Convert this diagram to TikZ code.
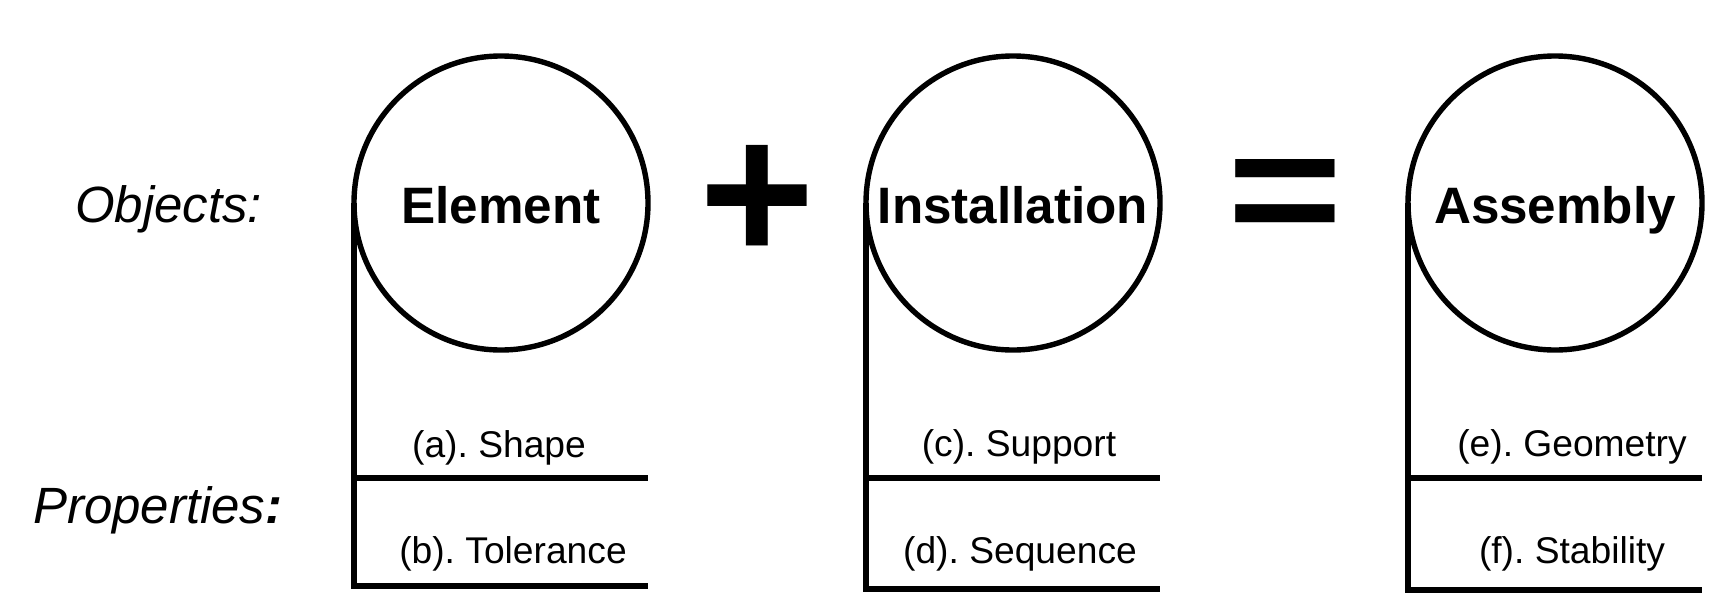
\documentclass[tikz,border=0pt]{standalone}
\usepackage{fontspec}
\setmainfont{Liberation Sans}
\usepackage{tikz}
\usetikzlibrary{positioning}
\frenchspacing

\begin{document}
\begin{tikzpicture}[
    x=0.5pt, y=-0.5pt,
    every node/.style={inner sep=0pt, outer sep=0pt},
    obj/.style={draw, circle, line width=2.7pt, minimum size=147pt, font=\fontsize{25.6}{30}\selectfont\bfseries, text height=20pt, text depth=0pt},
    prop/.style={anchor=base, font=\fontsize{18.6}{22}\selectfont},
    side/.style={anchor=base west, font=\fontsize{25.5}{30}\selectfont\itshape},
    sym/.style={anchor=base, font=\fontsize{99}{100}\selectfont\bfseries},
    rail/.style={line width=2.7pt}
]
\useasboundingbox (0,0) rectangle (1712,595);

% row titles
\node[side] (objects) at (75,222) {Objects:};
\node[side] (props) at (33,523) {Properties\textbf{:}};

% objects
\node[obj] (element) at (501,203) {Element};
\node[obj] (install) at (1013,203) {Installation};
\node[obj] (assembly) at (1555,203) {Assembly};

\node[sym] (plus) at (757,261) {+};
\node[sym] (equals) at (1285,246) {\scalebox{1}[0.845]{=}};

% property tables under each object
\foreach \o/\b in {element/586,install/589,assembly/590}{
  \coordinate (\o-bot) at (\o.west |- 0,\b);
  \draw[rail] (\o.west) -- (\o-bot) -- (\o-bot -| \o.east);
  \draw[rail] (\o.west |- 0,478) -- (\o.east |- 0,478);
}

\node[prop] (shape) at (499,457) {(a). Shape};
\node[prop] (tol) at (513,563) {(b). Tolerance};
\node[prop] (support) at (1019,456) {(c). Support};
\node[prop] (seq) at (1020,563) {(d). Sequence};
\node[prop] (geom) at (1572,456) {(e). Geometry};
\node[prop] (stab) at (1572,563) {(f). Stability};
\end{tikzpicture}
\end{document}
